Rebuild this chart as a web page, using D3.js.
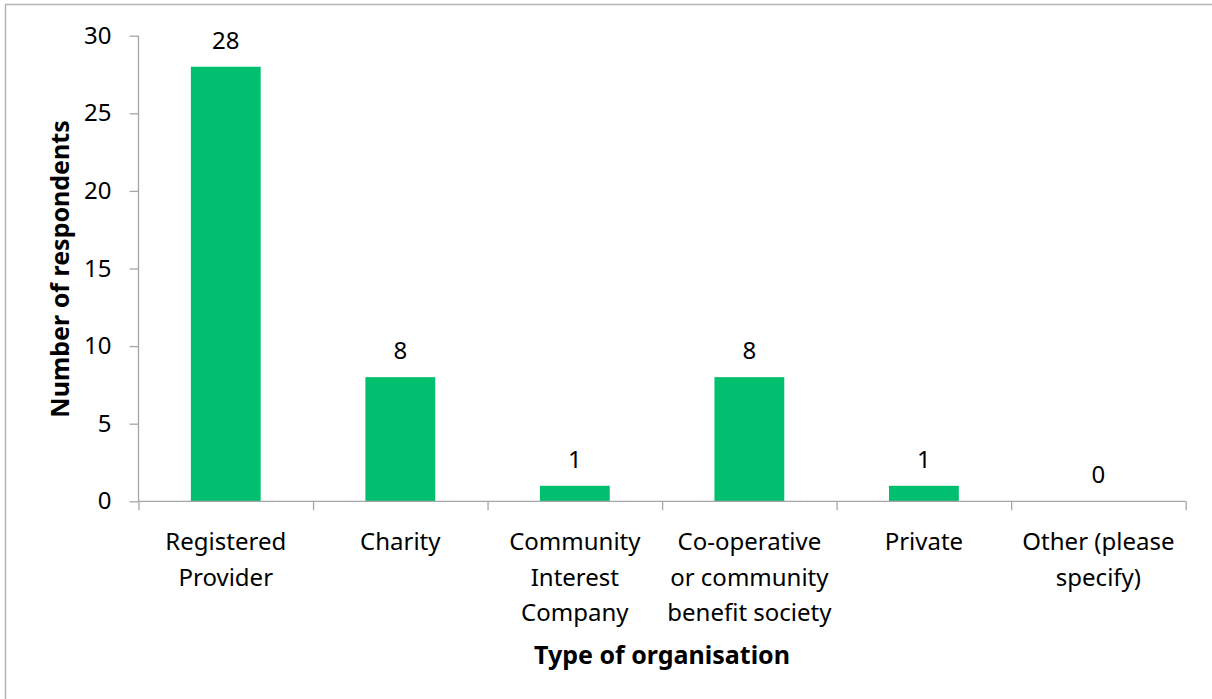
<!DOCTYPE html>
<html>
<head>
<meta charset="utf-8">
<script src="https://cdn.jsdelivr.net/npm/d3@7"></script>
<style>
  html, body { margin: 0; padding: 0; background: #fff; }
  svg { display: block; }
  text { font-family: "Noto Sans", "Open Sans", sans-serif; fill: #000; }
</style>
</head>
<body>
<svg id="chart" width="1212" height="699"></svg>
<script>
const categories = [
  ["Registered", "Provider"],
  ["Charity"],
  ["Community", "Interest", "Company"],
  ["Co-operative", "or community", "benefit society"],
  ["Private"],
  ["Other (please", "specify)"]
];
const values = [28, 8, 1, 8, 1, 0];
const yTicks = [0, 5, 10, 15, 20, 25, 30];
const yTitle = "Number of respondents";
const xTitle = "Type of organisation";

const svg = d3.select("#chart");
const axisColor = "#a6a6a6";
const barColor = "#00bf6f";
const fs = 24;

// outer border
svg.append("rect").attr("x", 5.5).attr("y", 4.5).attr("width", 1300).attr("height", 800)
  .attr("fill", "none").attr("stroke", "#b4b4b4").attr("stroke-width", 1.5);

const pLeft = 138.5, pRight = 1185.7, pTop = 35.7, pBottom = 501.3;
const keys = categories.map((c, i) => i);
const x = d3.scaleBand().domain(keys).range([pLeft, pRight]).padding(0);
const y = d3.scaleLinear().domain([0, 30]).range([pBottom, pTop]);

// bars
const barW = x.bandwidth() * 0.4;
svg.append("g").selectAll("rect").data(values).join("rect")
  .attr("x", (d, i) => x(i) + (x.bandwidth() - barW) / 2)
  .attr("y", d => y(d))
  .attr("width", barW)
  .attr("height", d => pBottom - y(d))
  .attr("fill", barColor);

// value labels
svg.append("g").selectAll("text").data(values).join("text")
  .attr("x", (d, i) => x(i) + x.bandwidth() / 2)
  .attr("y", d => y(d) - 18)
  .attr("text-anchor", "middle")
  .attr("font-size", fs)
  .text(d => d);

// y axis
const yAxis = svg.append("g").attr("transform", `translate(${pLeft},0)`)
  .call(d3.axisLeft(y).tickValues(yTicks).tickSize(9).tickPadding(18));
yAxis.selectAll("path, line").attr("stroke", axisColor).attr("stroke-width", 1.3);
yAxis.select(".domain").attr("d", `M0,${pTop}V${pBottom}`);
yAxis.selectAll("text").attr("font-size", fs).attr("font-family", '"Noto Sans", sans-serif').attr("fill", "#000");

// x axis
const xEdge = d3.scaleLinear().domain([0, categories.length]).range([pLeft, pRight]);
const xAxis = svg.append("g").attr("transform", `translate(0,${pBottom})`)
  .call(d3.axisBottom(xEdge).tickValues(d3.range(0, categories.length + 1)).tickSize(9).tickFormat(""));
xAxis.selectAll("path, line").attr("stroke", axisColor).attr("stroke-width", 1.3);
xAxis.select(".domain").attr("d", `M${pLeft},0H${pRight}`);

// category labels
const catG = svg.append("g");
categories.forEach((lines, i) => {
  const t = catG.append("text")
    .attr("x", x(i) + x.bandwidth() / 2)
    .attr("y", 550)
    .attr("text-anchor", "middle")
    .attr("font-size", fs);
  lines.forEach((ln, j) => {
    t.append("tspan").attr("x", x(i) + x.bandwidth() / 2).attr("y", 550 + j * 35.5).text(ln);
  });
});

// axis titles
svg.append("text")
  .attr("x", 662).attr("y", 664)
  .attr("text-anchor", "middle").attr("font-size", 25).attr("font-weight", "bold")
  .text(xTitle);

svg.append("text")
  .attr("transform", `translate(69,${269}) rotate(-90)`)
  .attr("text-anchor", "middle").attr("font-size", 25).attr("font-weight", "bold")
  .text(yTitle);
</script>
</body>
</html>
